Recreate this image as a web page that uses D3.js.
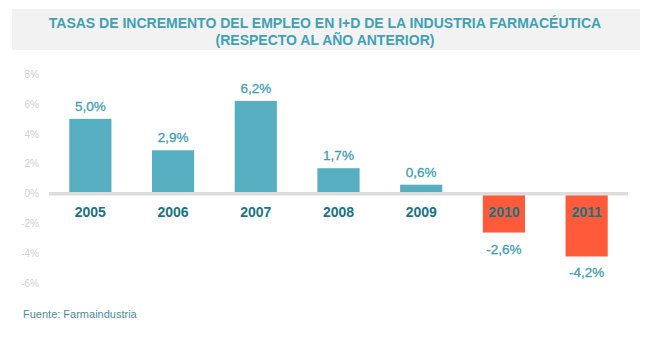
<!DOCTYPE html>
<html>
<head>
<meta charset="utf-8">
<script src="https://cdn.jsdelivr.net/npm/d3@7"></script>
<style>
  body { margin: 0; background: #fff; }
  svg { font-family: "Liberation Sans", Arial, sans-serif; }
</style>
</head>
<body>
<svg width="650" height="339"></svg>
<script>
  const years = ["2005", "2006", "2007", "2008", "2009", "2010", "2011"];
  const rates = [5.0, 2.9, 6.2, 1.7, 0.6, -2.6, -4.2];
  const yTicks = [8, 6, 4, 2, 0, -2, -4, -6];
  const titleLines = [
    "TASAS DE INCREMENTO DEL EMPLEO EN I+D DE LA INDUSTRIA FARMACÉUTICA",
    "(RESPECTO AL AÑO ANTERIOR)"
  ];
  const source = "Fuente: Farmaindustria";

  const data = years.map((y, i) => ({ year: y, value: rates[i] }));
  const fmt = (v) => v.toFixed(1).replace(".", ",") + "%";

  const svg = d3.select("svg");

  // title banner
  svg.append("rect")
    .attr("x", 12).attr("y", 9)
    .attr("width", 628).attr("height", 41)
    .attr("fill", "#f2f2f2");

  svg.selectAll(".title")
    .data(titleLines)
    .enter()
    .append("text")
    .attr("class", "title")
    .attr("x", 325)
    .attr("y", (d, i) => 28 + i * 17)
    .attr("text-anchor", "middle")
    .attr("font-size", 14)
    .attr("font-weight", "bold")
    .attr("fill", "#40a1b5")
    .text((d) => d);

  const xScale = d3.scaleBand()
    .domain(years)
    .range([49, 628])
    .paddingInner(0.49)
    .paddingOuter(0.245);

  const yScale = d3.scaleLinear()
    .domain([-6, 8])
    .range([283.4, 74]);

  // y axis labels only
  const yAxis = d3.axisLeft(yScale)
    .tickValues(yTicks)
    .tickSize(0)
    .tickPadding(0)
    .tickFormat((d) => d + "%");

  const yAxisG = svg.append("g")
    .attr("transform", "translate(39,0)")
    .call(yAxis);
  yAxisG.select(".domain").remove();
  yAxisG.selectAll("text")
    .attr("fill", "#cfcfcf")
    .attr("font-size", 10)
    .attr("font-family", "Liberation Sans, Arial, sans-serif");

  // bars
  svg.selectAll(".bar")
    .data(data)
    .enter()
    .append("rect")
    .attr("class", "bar")
    .attr("x", (d) => xScale(d.year))
    .attr("width", xScale.bandwidth())
    .attr("y", (d) => d.value >= 0 ? yScale(d.value) : yScale(0) + 1)
    .attr("height", (d) => d.value >= 0 ? yScale(0) - yScale(d.value) : yScale(d.value) - yScale(0) - 1)
    .attr("fill", (d) => d.value >= 0 ? "#56afc0" : "#ff5b3b");

  // zero line
  svg.append("line")
    .attr("x1", 49).attr("x2", 628)
    .attr("y1", yScale(0)).attr("y2", yScale(0))
    .attr("stroke", "#dddddd")
    .attr("stroke-width", 3.5);

  // value labels
  svg.selectAll(".val")
    .data(data)
    .enter()
    .append("text")
    .attr("class", "val")
    .attr("x", (d) => xScale(d.year) + xScale.bandwidth() / 2)
    .attr("y", (d) => d.value >= 0 ? yScale(d.value) - 8 : yScale(d.value) + 21)
    .attr("text-anchor", "middle")
    .attr("font-size", 13.5)
    .attr("fill", "#3f9db2")
    .attr("stroke", "#3f9db2")
    .attr("stroke-width", 0.3)
    .text((d) => fmt(d.value));

  // year labels
  svg.selectAll(".year")
    .data(data)
    .enter()
    .append("text")
    .attr("class", "year")
    .attr("x", (d) => xScale(d.year) + xScale.bandwidth() / 2)
    .attr("y", yScale(0) + 23)
    .attr("text-anchor", "middle")
    .attr("font-size", 14)
    .attr("font-weight", "bold")
    .attr("fill", "#1a7282")
    .text((d) => d.year);

  svg.append("text")
    .attr("x", 23)
    .attr("y", 318)
    .attr("font-size", 11)
    .attr("fill", "#4e8d9c")
    .text(source);
</script>
</body>
</html>
